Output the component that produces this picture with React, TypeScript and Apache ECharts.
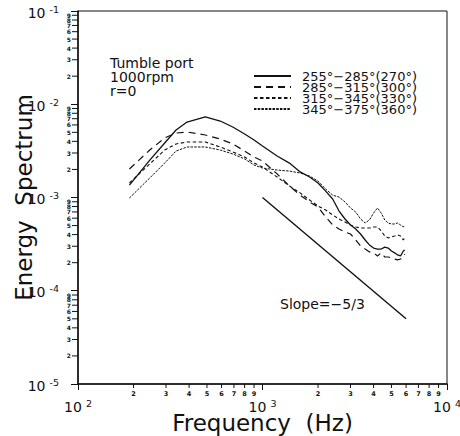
import React, { useEffect, useRef } from 'react';
import * as echarts from 'echarts';

// ---- data ----
const freq = [190, 245, 295, 340, 390, 490, 590, 690, 800, 900, 1000, 1200, 1400, 1600, 1800, 2000, 2200, 2400, 2600, 2800, 3000, 3200, 3400, 3600, 3800, 4000, 4200, 4400, 4600, 4800, 5000, 5200, 5400, 5600, 5800, 5900];

const e270 = [1.36e-3, 2.52e-3, 3.84e-3, 5.30e-3, 6.45e-3, 7.30e-3, 6.61e-3, 5.70e-3, 4.80e-3, 4.14e-3, 3.57e-3, 2.79e-3, 2.34e-3, 1.88e-3, 1.66e-3, 1.43e-3, 1.17e-3, 9.63e-4, 7.16e-4, 5.88e-4, 5.07e-4, 4.59e-4, 4.06e-4, 3.50e-4, 3.10e-4, 2.87e-4, 2.80e-4, 2.80e-4, 2.94e-4, 2.87e-4, 2.67e-4, 2.55e-4, 2.42e-4, 2.36e-4, 2.67e-4, 2.74e-4];
const e300 = [2.02e-3, 3.23e-3, 4.35e-3, 4.91e-3, 5.04e-3, 4.68e-3, 4.24e-3, 3.75e-3, 3.15e-3, 2.72e-3, 2.46e-3, 1.79e-3, 1.33e-3, 1.06e-3, 8.95e-4, 7.91e-4, 6.18e-4, 5.07e-4, 4.59e-4, 4.27e-4, 4.06e-4, 3.50e-4, 3.02e-4, 2.80e-4, 2.61e-4, 2.55e-4, 2.36e-4, 2.55e-4, 2.30e-4, 2.30e-4, 2.25e-4, 2.19e-4, 2.14e-4, 2.19e-4, 2.30e-4, 2.48e-4];
const e330 = [1.43e-3, 2.29e-3, 3.23e-3, 3.75e-3, 3.94e-3, 3.94e-3, 3.48e-3, 3.08e-3, 2.72e-3, 2.34e-3, 2.12e-3, 1.66e-3, 1.33e-3, 1.12e-3, 9.40e-4, 8.11e-4, 7.34e-4, 6.49e-4, 5.88e-4, 5.46e-4, 5.07e-4, 4.83e-4, 4.71e-4, 4.71e-4, 4.71e-4, 4.83e-4, 4.83e-4, 4.37e-4, 3.87e-4, 3.69e-4, 3.78e-4, 3.87e-4, 3.96e-4, 3.87e-4, 3.50e-4, 3.69e-4];
const e360 = [9.88e-4, 1.62e-3, 2.34e-3, 3.15e-3, 3.48e-3, 3.48e-3, 3.23e-3, 2.93e-3, 2.59e-3, 2.23e-3, 2.07e-3, 1.97e-3, 1.92e-3, 1.83e-3, 1.70e-3, 1.50e-3, 1.23e-3, 1.06e-3, 1.01e-3, 8.95e-4, 7.72e-4, 6.99e-4, 5.88e-4, 5.33e-4, 5.74e-4, 6.82e-4, 7.72e-4, 6.82e-4, 5.74e-4, 5.33e-4, 5.20e-4, 5.20e-4, 5.33e-4, 5.07e-4, 4.83e-4, 5.07e-4];

const seriesNames = ['255°−285°(270°)', '285°−315°(300°)', '315°−345°(330°)', '345°−375°(360°)'];

const slopeX = [1000, 6000];
const slopeY = [1.0e-3, 5.0e-5];

const X_MIN = 100;
const X_MAX = 10000;
const Y_MIN = 1e-5;
const Y_MAX = 1e-1;

const xMinorTicks = [200, 300, 400, 500, 600, 700, 800, 900, 2000, 3000, 4000, 5000, 6000, 7000, 8000, 9000];
const yMinorTicks = [
  2e-5, 3e-5, 4e-5, 5e-5, 6e-5, 7e-5, 8e-5, 9e-5,
  2e-4, 3e-4, 4e-4, 5e-4, 6e-4, 7e-4, 8e-4, 9e-4,
  2e-3, 3e-3, 4e-3, 5e-3, 6e-3, 7e-3, 8e-3, 9e-3,
  2e-2, 3e-2, 4e-2, 5e-2, 6e-2, 7e-2, 8e-2, 9e-2,
];

const annotationLines = ['Tumble port', '1000rpm', 'r=0'];
const slopeLabel = 'Slope=−5/3';
const xTitle = 'Frequency  (Hz)';
const yTitle = 'Energy  Spectrum';

const FONT = "'DejaVu Sans', sans-serif";
const INK = '#111';

const leadDigit = (v: number) => String(Math.round(v / Math.pow(10, Math.floor(Math.log10(v) + 1e-9))));
const powLabel = (v: number) => `{b|10}{s|${Math.round(Math.log10(v))}}`;

const rich: any = {
  b: { fontSize: 14, fontFamily: FONT, color: INK, lineHeight: 14, padding: [3, 0, 0, 0] },
  s: { fontSize: 9.5, fontFamily: FONT, color: INK, lineHeight: 10, verticalAlign: 'top', padding: [0, 0, 0, 4] },
};

const lineStyles: any[] = [
  { type: 'solid', width: 1.3 },
  { type: [7, 5], width: 1.2 },
  { type: [3.5, 2.5], width: 1.1 },
  { type: [2.5, 1.2], width: 1 },
];

const seriesValues = [e270, e300, e330, e360];

export default function App() {
  const ref = useRef<HTMLDivElement>(null);

  useEffect(() => {
    if (!ref.current) return;
    const chart = echarts.init(ref.current, undefined, { renderer: 'svg' });

    const dataSeries = seriesNames.map((name, i) => ({
      name,
      type: 'line',
      data: freq.map((f, j) => [f, seriesValues[i][j]]),
      symbol: 'none',
      showSymbol: false,
      lineStyle: { color: INK, ...lineStyles[i] },
      itemStyle: { color: INK },
      z: 3,
    }));

    const option: any = {
      animation: false,
      backgroundColor: '#fff',
      grid: {
        left: 78, right: 13, top: 11, bottom: 52,
        outerBoundsMode: 'none', containLabel: false,
        show: true, borderColor: INK, borderWidth: 1, backgroundColor: 'transparent',
      },
      legend: {
        data: seriesNames,
        orient: 'vertical',
        left: 253,
        top: 69.5,
        padding: 0,
        itemWidth: 37,
        itemHeight: 10,
        itemGap: -2,
        selectedMode: false,
        itemStyle: { color: 'rgba(0,0,0,0)', borderColor: 'rgba(0,0,0,0)', borderWidth: 0, opacity: 0 },
        textStyle: { fontFamily: FONT, fontSize: 13, color: INK, padding: [0, 0, 0, 6] },
      },
      xAxis: {
        type: 'log',
        logBase: 10,
        min: X_MIN,
        max: X_MAX,
        axisLine: { show: true, lineStyle: { color: INK, width: 1.5 } },
        axisTick: { show: true, length: 6, lineStyle: { color: INK } },
        axisLabel: { formatter: powLabel, rich, margin: 14, showMinLabel: true, showMaxLabel: true, hideOverlap: false },
        splitLine: { show: false },
        name: xTitle,
        nameLocation: 'middle',
        nameGap: 27.5,
        nameMoveOverlap: false,
        nameTextStyle: { fontFamily: FONT, fontSize: 23, color: INK },
      },
      yAxis: {
        type: 'log',
        logBase: 10,
        min: Y_MIN,
        max: Y_MAX,
        axisLine: { show: true, lineStyle: { color: INK, width: 1.5 } },
        axisTick: { show: true, length: 7, lineStyle: { color: INK } },
        axisLabel: { formatter: powLabel, rich, margin: 19, showMinLabel: true, showMaxLabel: true, hideOverlap: false },
        splitLine: { show: false },
        name: yTitle,
        nameLocation: 'middle',
        nameGap: 42.5,
        nameMoveOverlap: false,
        nameTextStyle: { fontFamily: FONT, fontSize: 23, color: INK },
      },
      graphic: [
        {
          type: 'text',
          left: 110,
          top: 55.5,
          style: { text: annotationLines.join('\n'), font: `14px ${FONT}`, fill: INK, lineHeight: 14 },
        },
        {
          type: 'text',
          left: 280,
          top: 297,
          style: { text: slopeLabel, font: `14px ${FONT}`, fill: INK },
        },
      ],
      series: [
        ...dataSeries,
        {
          name: 'slope',
          type: 'line',
          data: slopeX.map((x, i) => [x, slopeY[i]]),
          symbol: 'none',
          showSymbol: false,
          lineStyle: { color: INK, width: 1.4 },
          itemStyle: { color: INK },
          z: 3,
        },
        {
          name: 'xMinor',
          type: 'custom',
          silent: true,
          clip: false,
          data: xMinorTicks.map((v) => [v, Y_MIN]),
          renderItem: (_p: any, api: any) => {
            const v = api.value(0);
            const pt = api.coord([v, api.value(1)]);
            return {
              type: 'group',
              children: [
                { type: 'line', shape: { x1: pt[0], y1: pt[1], x2: pt[0], y2: pt[1] + 4 }, style: { stroke: INK, lineWidth: 1 } },
                { type: 'text', x: pt[0], y: pt[1] + 9.5, style: { text: leadDigit(v), font: `bold 6.5px ${FONT}`, fill: INK, align: 'center', verticalAlign: 'middle' } },
              ],
            };
          },
          z: 4,
        },
        {
          name: 'yMinor',
          type: 'custom',
          silent: true,
          clip: false,
          data: yMinorTicks.map((v) => [X_MIN, v]),
          renderItem: (_p: any, api: any) => {
            const v = api.value(1);
            const pt = api.coord([api.value(0), v]);
            return {
              type: 'group',
              children: [
                { type: 'line', shape: { x1: pt[0] - 6, y1: pt[1], x2: pt[0], y2: pt[1] }, style: { stroke: INK, lineWidth: 1 } },
                { type: 'text', x: pt[0] - 7, y: pt[1], style: { text: leadDigit(v), font: `bold 6px ${FONT}`, fill: INK, align: 'right', verticalAlign: 'middle' } },
              ],
            };
          },
          z: 4,
        },
      ],
    };

    chart.setOption(option);
    return () => chart.dispose();
  }, []);

  return <div ref={ref} style={{ position: 'absolute', left: 0, top: 0, width: 460, height: 436, background: '#fff' }} />;
}
